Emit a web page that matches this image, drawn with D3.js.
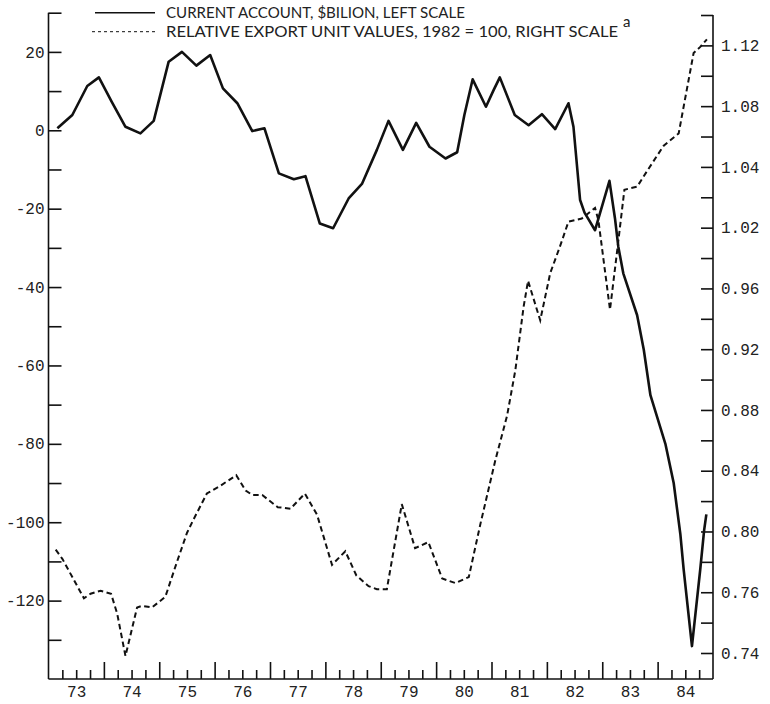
<!DOCTYPE html>
<html lang="en">
<head>
    <meta charset="UTF-8">
    <title>Current Account and Relative Export Unit Values</title>
    <script src="https://d3js.org/d3.v7.min.js"></script>
    <style>
        body {
            margin: 0;
            background: white;
        }

        .tick-label {
            font-family: 'Liberation Mono', 'DejaVu Sans Mono', monospace;
            font-size: 16px;
            fill: #222;
        }

        .legend-text {
            font-family: 'Lato', 'Open Sans', sans-serif;
            font-size: 15px;
            fill: #222;
        }

        .line {
            fill: none;
            stroke: #111;
        }
    </style>
</head>
<body>
    <div id="chart"></div>

    <script>
        // Current account, $ billion (left scale), decimal years
        const caYears = [73.16, 73.43, 73.70, 73.91, 74.14, 74.39, 74.66, 74.90, 75.17, 75.41,
            75.67, 75.92, 76.15, 76.41, 76.68, 76.90, 77.16, 77.43, 77.64, 77.90,
            78.14, 78.42, 78.66, 78.93, 79.14, 79.40, 79.64, 79.88, 80.17, 80.38,
            80.51, 80.66, 80.90, 81.04, 81.15, 81.42, 81.67, 81.91, 82.15, 82.39,
            82.48, 82.60, 82.68, 82.87, 83.13, 83.23, 83.29, 83.38, 83.63, 83.75,
            83.87, 84.14, 84.29, 84.41, 84.47, 84.62, 84.77, 84.84, 84.88];
        const caValues = [0.5, 3.9, 11.3, 13.5, 7.3, 0.9, -0.8, 2.4, 17.5, 20,
            16.5, 19.2, 10.7, 6.9, -0.2, 0.5, -11, -12.5, -11.7, -23.8,
            -25, -17.4, -13.7, -5, 2.4, -5, 1.9, -4.2, -7.2, -5.6,
            3.9, 13, 6, 10.3, 13.5, 3.9, 1.3, 4.1, 0.3, 6.9,
            0.9, -17.8, -21, -25.5, -12.9, -22.5, -29.7, -36.5, -47.2, -56,
            -67.6, -80, -90, -103, -112, -131.6, -112, -102, -98];

        // Relative export unit values, 1982 = 100 (right scale)
        const euvYears = [73.13, 73.25, 73.43, 73.64, 73.76, 73.94, 74.13, 74.24, 74.39, 74.60,
            74.69, 74.87, 75.11, 75.32, 75.50, 75.62, 75.86, 76.10, 76.39, 76.56,
            76.68, 76.86, 77.14, 77.37, 77.63, 77.85, 78.12, 78.36, 78.56, 78.78,
            78.93, 79.11, 79.38, 79.62, 79.86, 80.11, 80.35, 80.59, 80.80, 81.07,
            81.28, 81.43, 81.58, 81.66, 81.88, 82.06, 82.24, 82.39, 82.63, 82.87,
            82.93, 83.14, 83.27, 83.40, 83.63, 83.84, 84.11, 84.38, 84.65, 84.77, 84.89];
        const euvValues = [0.788, 0.782, 0.770, 0.756, 0.759, 0.761, 0.759, 0.746, 0.718, 0.750,
            0.751, 0.750, 0.757, 0.780, 0.799, 0.808, 0.825, 0.830, 0.837, 0.827,
            0.824, 0.824, 0.816, 0.815, 0.825, 0.811, 0.778, 0.787, 0.771, 0.764,
            0.762, 0.762, 0.818, 0.789, 0.793, 0.769, 0.766, 0.770, 0.805, 0.847,
            0.876, 0.906, 0.948, 0.965, 0.939, 0.970, 0.988, 1.004, 1.006, 1.013,
            1.005, 0.946, 0.985, 1.025, 1.027, 1.039, 1.054, 1.062, 1.115, 1.119, 1.124];

        // Axis labels as printed
        const yearLabels = ["73", "74", "75", "76", "77", "78", "79", "80", "81", "82", "83", "84"];
        const leftTicks = [20, 0, -20, -40, -60, -80, -100, -120];
        const rightTickLabels = ["0.74", "0.76", "0.80", "0.84", "0.88", "0.92", "0.96", "1.02", "1.04", "1.08", "1.12"];

        const legendLabels = ["CURRENT ACCOUNT, $BILION, LEFT SCALE",
            "RELATIVE EXPORT UNIT VALUES, 1982 = 100, RIGHT SCALE"];

        const W = 770, H = 704;
        const plot = {left: 48.5, right: 713, top: 12.7, bottom: 679};

        const svg = d3.select("#chart")
            .append("svg")
            .attr("width", W)
            .attr("height", H);

        // Scales
        const x = d3.scaleLinear().domain([73, 85]).range([plot.left, plot.right]);
        const yLeft = d3.scaleLinear().domain([-140, 30]).range([plot.bottom, plot.top]);
        const yRight = d3.scaleLinear().domain([0.72, 1.14]).range([653, 15]);

        // Frame lines
        const frame = svg.append("g").attr("stroke", "#111").attr("stroke-width", 1.6);
        frame.append("line")
            .attr("x1", plot.left).attr("x2", plot.left)
            .attr("y1", yLeft(30)).attr("y2", plot.bottom);
        frame.append("line")
            .attr("x1", plot.right).attr("x2", plot.right)
            .attr("y1", yRight(1.14)).attr("y2", plot.bottom);
        frame.append("line")
            .attr("x1", plot.left).attr("x2", plot.right)
            .attr("y1", plot.bottom).attr("y2", plot.bottom);

        // Left axis: ticks every 10, labels every 20
        const leftAxis = svg.append("g")
            .attr("transform", `translate(${plot.left},0)`)
            .call(d3.axisLeft(yLeft)
                .tickValues(d3.range(-130, 31, 10))
                .tickSize(-13)
                .tickPadding(4)
                .tickFormat(d => leftTicks.includes(d) ? d : ""));

        // Right axis: ticks every 0.02, labels every 0.04
        const rightValues = d3.range(0, 22).map(i => +(0.72 + i * 0.02).toFixed(2));
        const rightAxis = svg.append("g")
            .attr("transform", `translate(${plot.right},0)`)
            .call(d3.axisRight(yRight)
                .tickValues(rightValues)
                .tickSize(-12)
                .tickPadding(8)
                .tickFormat((d, i) => i % 2 === 0 ? rightTickLabels[i / 2] : ""));

        // Bottom axis: year ticks, quarter ticks, year labels
        const xMajor = svg.append("g")
            .attr("transform", `translate(0,${plot.bottom})`)
            .call(d3.axisBottom(x)
                .tickValues(d3.range(74, 85, 1))
                .tickSize(-17)
                .tickFormat(""));

        const quarters = d3.range(73, 85, 0.25).filter(d => d % 1 !== 0);
        const xMinor = svg.append("g")
            .attr("transform", `translate(0,${plot.bottom})`)
            .call(d3.axisBottom(x)
                .tickValues(quarters)
                .tickSize(-9)
                .tickFormat(""));

        const xLabels = svg.append("g")
            .attr("transform", `translate(0,${plot.bottom})`)
            .call(d3.axisBottom(x)
                .tickValues(yearLabels.map((d, i) => 73.5 + i))
                .tickSize(0)
                .tickPadding(7)
                .tickFormat((d, i) => yearLabels[i]));

        [leftAxis, rightAxis, xMajor, xMinor, xLabels].forEach(g => {
            g.select(".domain").remove();
            g.selectAll(".tick line").attr("stroke", "#111").attr("stroke-width", 1.6);
            g.selectAll(".tick text").attr("class", "tick-label").attr("font-family", null).attr("font-size", null);
        });

        // Lines
        const caLine = d3.line()
            .x((d, i) => x(caYears[i]))
            .y(d => yLeft(d));

        const euvLine = d3.line()
            .x((d, i) => x(euvYears[i]))
            .y(d => yRight(d));

        svg.append("path")
            .datum(caValues)
            .attr("class", "line")
            .attr("stroke-width", 2.6)
            .attr("stroke-linejoin", "round")
            .attr("d", caLine);

        svg.append("path")
            .datum(euvValues)
            .attr("class", "line")
            .attr("stroke-width", 2)
            .attr("stroke-dasharray", "5.5,3.5")
            .attr("d", euvLine);

        // Legend
        const legend = svg.append("g");
        legend.append("line")
            .attr("x1", 95).attr("x2", 155)
            .attr("y1", 12.7).attr("y2", 12.7)
            .attr("stroke", "#111").attr("stroke-width", 1.6);
        legend.append("line")
            .attr("x1", 92).attr("x2", 155)
            .attr("y1", 31.7).attr("y2", 31.7)
            .attr("stroke", "#111").attr("stroke-width", 1)
            .attr("stroke-dasharray", "3,3");

        const legendWidths = [299, 452];
        legendLabels.forEach((label, i) => {
            legend.append("text")
                .attr("class", "legend-text")
                .attr("x", 166)
                .attr("y", 12.7 + i * 19)
                .attr("dy", "0.36em")
                .attr("textLength", legendWidths[i])
                .attr("lengthAdjust", "spacingAndGlyphs")
                .text(label);
        });
        legend.append("text")
            .attr("class", "legend-text")
            .attr("x", 166 + legendWidths[1] + 5)
            .attr("y", 27)
            .attr("font-size", "12px")
            .text("a");
    </script>
</body>
</html>
